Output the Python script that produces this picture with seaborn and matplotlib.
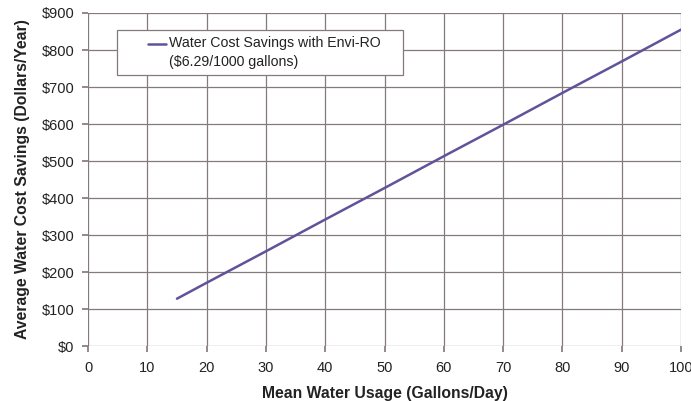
import numpy as np
import pandas as pd
import matplotlib
matplotlib.use("Agg")
import matplotlib.pyplot as plt
from matplotlib.patches import Rectangle
import seaborn as sns

# values
usage_gal_day = [15, 20, 30, 40, 50, 60, 70, 80, 90, 100]
savings_usd_year = [128, 171, 256, 342, 427, 513, 598, 684, 769, 855]
series_name = "Water Cost Savings with Envi-RO\n($6.29/1000 gallons)"
x_ticks = [0, 10, 20, 30, 40, 50, 60, 70, 80, 90, 100]
y_ticks = [0, 100, 200, 300, 400, 500, 600, 700, 800, 900]

df = pd.DataFrame({"usage": usage_gal_day, "savings": savings_usd_year,
                   "series": series_name})

sns.set_theme(style="white")
plt.rcParams["font.family"] = ["Liberation Sans", "DejaVu Sans"]

fig = plt.figure(figsize=(6.91, 4.01), dpi=100)
ax = fig.add_axes([0.1274, 0.137, 0.8581, 0.8306])

grid_col = "#857a7a"
sns.lineplot(data=df, x="usage", y="savings", hue="series",
             palette=["#62529a"], linewidth=1.8, ax=ax)

ax.set_xlim(0, 100)
ax.set_ylim(0, 900)
ax.set_xticks(x_ticks)
ax.set_yticks(y_ticks)
ax.set_yticklabels([f"${v}" for v in y_ticks])
ax.grid(True, color=grid_col, linewidth=0.9)
ax.set_axisbelow(True)
for s in ax.spines.values():
    s.set_visible(False)
ax.tick_params(axis="both", which="both", length=4, color=grid_col,
               labelsize=10.5, labelcolor="#222222")
ax.tick_params(axis="x", bottom=True, pad=7)
ax.tick_params(axis="y", left=True, pad=6)

ax.set_xlabel("Mean Water Usage (Gallons/Day)", fontsize=11.3,
              fontweight="bold", color="#222222", labelpad=8)
ax.set_ylabel("Average Water Cost Savings (Dollars/Year)", fontsize=11.3,
              fontweight="bold", color="#222222", labelpad=8)

# legend box drawn as its own frame, legend entries placed inside it
ax.add_patch(Rectangle((0.049, 0.814), 0.482, 0.135, transform=ax.transAxes,
                       facecolor="white", edgecolor=grid_col, linewidth=0.9,
                       zorder=4))
leg = ax.legend(loc="center left", bbox_to_anchor=(0.101, 0.881),
                fontsize=10.2, frameon=False, handlelength=1.3,
                handletextpad=0.2, borderpad=0, borderaxespad=0)
leg.set_zorder(5)
for t in leg.get_texts():
    t.set_color("#222222")
    t.set_linespacing(1.4)
# sit the legend line next to the first text line, as in the original
h = leg.legend_handles[0]
h.set_ydata(np.asarray(h.get_ydata()) + 6.8)

fig.savefig("out.png", dpi=100)
